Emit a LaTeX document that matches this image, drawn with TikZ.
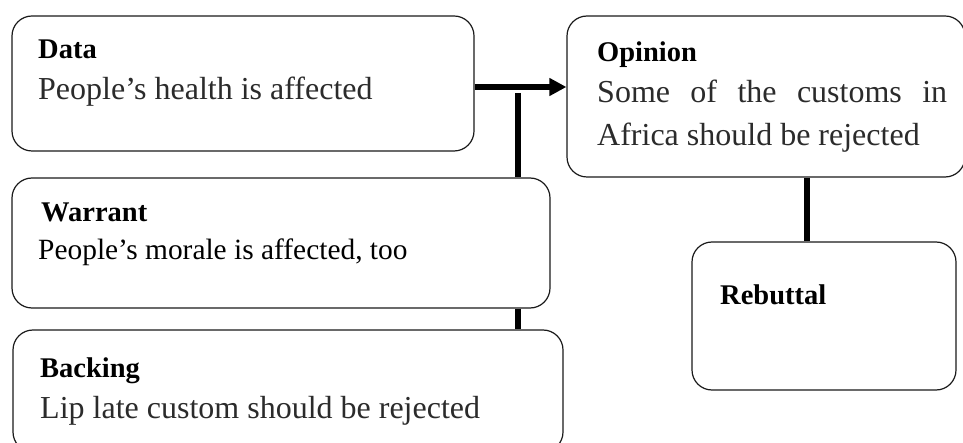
\documentclass[tikz,border=0pt]{standalone}
\usepackage{fontspec}
\setmainfont{Liberation Serif}
\usetikzlibrary{arrows.meta}
\definecolor{bodygray}{HTML}{2B2B2B}
\definecolor{edgegray}{HTML}{1A1A1A}
\begin{document}
\begin{tikzpicture}[x=1pt,y=-1pt,
  box/.style={draw=edgegray, line width=1.2pt, rounded corners=20pt, fill=white, inner sep=0pt},
  head/.style={anchor=base west, inner sep=0pt, font=\fontsize{28.5}{34}\selectfont\bfseries},
  body/.style={anchor=base west, inner sep=0pt, text=bodygray, font=\fontsize{32}{38}\selectfont},
  bodyblack/.style={anchor=base west, inner sep=0pt, font=\fontsize{29.4}{35}\selectfont},
  link/.style={line width=5.5pt, black}]

\useasboundingbox (0,0) rectangle (963,443);

% boxes
\node[box, minimum width=462pt, minimum height=135pt] (data) at (243,83.5) {};
\node[box, minimum width=398pt, minimum height=161pt] (opinion) at (766,96.5) {};
\node[box, minimum width=538pt, minimum height=130pt] (warrant) at (281,243) {};
\node[box, minimum width=550pt, minimum height=122pt] (backing) at (288,391) {};
\node[box, minimum width=264pt, minimum height=148pt] (rebuttal) at (824,316) {};

% texts
\node[head] (datahead) at (38,59) {Data};
\node[body] (databody) at (38,100) {People’s health is affected};

\node[head] (ophead) at (597,62) {Opinion};
\node[body] (opbodya) at (597,103) {\hbox to 350pt{Some\hfill of\hfill the\hfill customs\hfill in}};
\node[body] (opbodyb) at (597,146) {Africa should be rejected};

\node[head] (warhead) at (41,222) {Warrant};
\node[bodyblack] (warbody) at (38,260) {People’s morale is affected, too};

\node[head] (backhead) at (40,377) {Backing};
\node[body] (backbody) at (40,418) {Lip late custom should be rejected};

\node[head] (rebhead) at (720,305) {Rebuttal};

% connectors
\coordinate (arrowy) at (0,87);
\coordinate (wj) at (518,93);
\coordinate (rj) at (807,0);
\draw[link,-{Triangle[length=17pt,width=17pt]}] (data.east |- arrowy) -- (opinion.west |- arrowy);
\draw[link] (wj) -- (wj |- warrant.north);
\draw[link] (warrant.south -| wj) -- (backing.north -| wj);
\draw[link] (opinion.south -| rj) -- (rebuttal.north -| rj);
\end{tikzpicture}
\end{document}
